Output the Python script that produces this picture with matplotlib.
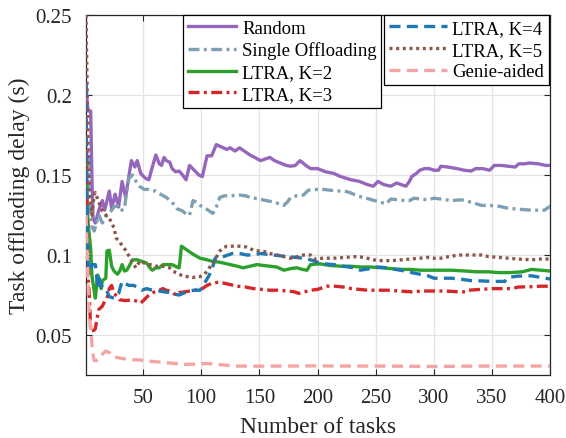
import matplotlib
matplotlib.use("Agg")
import matplotlib.pyplot as plt
from matplotlib.legend import Legend

plt.rcParams['font.family'] = ['Liberation Serif', 'DejaVu Serif']

# ---------------- data ----------------
rnd_x = [1, 2, 3, 5, 6, 7, 9, 12, 15, 17, 21, 23, 26, 29, 32, 35, 38, 40, 43, 45, 48, 52, 55, 58, 61, 64, 66,
         68, 70, 73, 75, 78, 81, 84, 87, 90, 94, 98, 101, 105, 109, 113, 116, 119, 122, 125, 129, 133, 137,
         142, 146, 151, 155, 159, 163, 168, 173, 177, 181, 185, 190, 194, 200, 207, 214, 220, 229, 236, 243,
         248, 252, 257, 263, 268, 272, 276, 279, 281, 285, 288, 292, 296, 300, 304, 306, 312, 320, 326, 332,
         336, 342, 348, 352, 358, 364, 370, 373, 378, 382, 390, 396, 400]
rnd_y = [0.207, 0.195, 0.19, 0.19, 0.15, 0.123, 0.12, 0.128, 0.134, 0.128, 0.14, 0.129, 0.138, 0.13, 0.146,
         0.136, 0.15, 0.159, 0.155, 0.159, 0.151, 0.148, 0.147, 0.155, 0.1625, 0.157, 0.156, 0.161, 0.159,
         0.158, 0.154, 0.152, 0.1525, 0.150, 0.147, 0.156, 0.153, 0.15, 0.149, 0.162, 0.162, 0.169, 0.168,
         0.167, 0.166, 0.167, 0.165, 0.167, 0.165, 0.1625, 0.161, 0.159, 0.16, 0.161, 0.159, 0.1575, 0.156,
         0.1555, 0.156, 0.159, 0.156, 0.154, 0.154, 0.152, 0.151, 0.149, 0.147, 0.146, 0.144, 0.143, 0.146,
         0.144, 0.143, 0.145, 0.144, 0.143, 0.146, 0.149, 0.151, 0.153, 0.154, 0.154, 0.153, 0.153, 0.1555,
         0.155, 0.154, 0.153, 0.1525, 0.154, 0.154, 0.153, 0.156, 0.156, 0.1555, 0.155, 0.157, 0.157, 0.1575,
         0.157, 0.156, 0.156]

so_x = [1, 2, 3, 4, 6, 8, 10, 12, 15, 18, 21, 25, 29, 32, 34, 36, 38, 41, 44, 47, 51, 55, 58, 61, 65, 70, 75,
        79, 84, 88, 90, 93, 96, 99, 104, 110, 113, 116, 120, 125, 133, 138, 142, 150, 156, 163, 171, 174, 177,
        182, 188, 192, 200, 205, 211, 217, 223, 228, 234, 242, 249, 254, 259, 263, 270, 275, 279, 283, 289,
        295, 300, 306, 315, 324, 332, 341, 348, 356, 362, 367, 375, 384, 390, 395, 400]
so_y = [0.155, 0.165, 0.16, 0.135, 0.118, 0.115, 0.12, 0.125, 0.12, 0.124, 0.126, 0.13, 0.131, 0.128, 0.129,
        0.14, 0.148, 0.15, 0.146, 0.143, 0.141, 0.141, 0.14, 0.14, 0.138, 0.136, 0.133, 0.129, 0.1275, 0.125,
        0.125, 0.134, 0.133, 0.131, 0.129, 0.126, 0.13, 0.136, 0.137, 0.137, 0.1375, 0.137, 0.136, 0.135,
        0.134, 0.133, 0.131, 0.133, 0.136, 0.137, 0.1375, 0.1405, 0.141, 0.141, 0.1405, 0.14, 0.14, 0.139,
        0.137, 0.1355, 0.134, 0.133, 0.132, 0.135, 0.1345, 0.134, 0.134, 0.1355, 0.135, 0.1345, 0.1355, 0.135,
        0.134, 0.1345, 0.133, 0.131, 0.131, 0.1305, 0.1295, 0.129, 0.1285, 0.128, 0.128, 0.128, 0.1305]

k2_x = [1, 2, 3, 5, 6, 8, 9, 11, 12, 14, 15, 18, 19, 21, 23, 25, 28, 30, 32, 34, 36, 38, 41, 45, 49, 53, 56,
        58, 61, 64, 67, 71, 75, 79, 81, 82, 83, 88, 93, 99, 105, 110, 116, 122, 128, 131, 136, 142, 148, 153,
        159, 165, 171, 177, 182, 187, 191, 194, 202, 210, 220, 228, 237, 246, 255, 263, 272, 280, 289, 298,
        304, 315, 327, 337, 347, 356, 365, 376, 384, 392, 400]
k2_y = [0.16, 0.13, 0.118, 0.104, 0.0875, 0.0775, 0.073, 0.0875, 0.0855, 0.079, 0.084, 0.0855, 0.1025, 0.103,
        0.093, 0.09, 0.088, 0.09, 0.094, 0.09, 0.0905, 0.093, 0.097, 0.097, 0.096, 0.095, 0.092, 0.0905, 0.092,
        0.092, 0.094, 0.094, 0.094, 0.0925, 0.092, 0.098, 0.1055, 0.103, 0.1005, 0.098, 0.097, 0.096, 0.0955,
        0.0945, 0.0935, 0.093, 0.092, 0.093, 0.094, 0.0935, 0.093, 0.0925, 0.0905, 0.0915, 0.092, 0.091,
        0.0905, 0.094, 0.0945, 0.0935, 0.093, 0.093, 0.0925, 0.0925, 0.092, 0.0915, 0.091, 0.091, 0.0905,
        0.0905, 0.0905, 0.0905, 0.09, 0.0895, 0.0895, 0.089, 0.089, 0.0895, 0.091, 0.0905, 0.09]

k3_x = [1, 2, 3, 4, 5, 6, 8, 9, 11, 12, 15, 17, 19, 21, 23, 25, 28, 30, 35, 41, 45, 48, 51, 55, 60, 64, 67,
        70, 73, 76, 79, 81, 86, 90, 95, 101, 105, 110, 115, 119, 125, 131, 138, 145, 152, 159, 166, 174, 180,
        184, 189, 194, 200, 208, 215, 222, 229, 236, 243, 252, 260, 270, 281, 290, 298, 310, 321, 327, 330,
        340, 350, 360, 367, 373, 385, 392, 400]
k3_y = [0.165, 0.12, 0.085, 0.072, 0.0525, 0.0525, 0.053, 0.054, 0.0625, 0.066, 0.068, 0.071, 0.073, 0.079,
        0.081, 0.076, 0.074, 0.072, 0.0715, 0.072, 0.071, 0.07, 0.072, 0.075, 0.077, 0.078, 0.079, 0.078,
        0.0775, 0.076, 0.075, 0.0765, 0.077, 0.0775, 0.078, 0.079, 0.081, 0.0825, 0.083, 0.0825, 0.0815,
        0.0805, 0.08, 0.079, 0.0785, 0.078, 0.078, 0.0775, 0.077, 0.076, 0.077, 0.078, 0.0785, 0.0805, 0.0805,
        0.08, 0.079, 0.0785, 0.078, 0.078, 0.078, 0.0775, 0.077, 0.0775, 0.0775, 0.0775, 0.077, 0.077, 0.078,
        0.0785, 0.079, 0.079, 0.079, 0.08, 0.0802, 0.0805, 0.0805]

k4_x = [1, 2, 3, 5, 6, 9, 11, 12, 14, 16, 18, 21, 23, 25, 29, 32, 35, 38, 42, 46, 49, 53, 58, 61, 64, 68, 73,
        77, 81, 86, 90, 94, 99, 103, 107, 110, 112, 116, 121, 127, 133, 139, 145, 151, 156, 162, 168, 174, 181,
        188, 194, 200, 205, 214, 222, 231, 237, 245, 252, 260, 267, 275, 281, 288, 295, 300, 306, 315, 324,
        332, 341, 350, 357, 361, 364, 372, 384, 392, 400]
k4_y = [0.207, 0.11, 0.092, 0.09, 0.094, 0.094, 0.081, 0.0855, 0.081, 0.079, 0.079, 0.074, 0.0735, 0.073,
        0.076, 0.0835, 0.082, 0.081, 0.081, 0.0795, 0.078, 0.079, 0.078, 0.078, 0.0775, 0.077, 0.0765, 0.0755,
        0.075, 0.0765, 0.0775, 0.078, 0.078, 0.0825, 0.0875, 0.093, 0.098, 0.098, 0.0995, 0.101, 0.101, 0.1,
        0.1, 0.101, 0.1005, 0.1, 0.0995, 0.099, 0.0985, 0.098, 0.097, 0.0955, 0.0945, 0.094, 0.093, 0.092,
        0.0905, 0.0915, 0.0925, 0.092, 0.091, 0.09, 0.089, 0.088, 0.087, 0.0855, 0.0855, 0.0855, 0.0848, 0.084,
        0.0838, 0.0835, 0.0835, 0.0835, 0.086, 0.0868, 0.087, 0.086, 0.085]

k5_x = [1, 2, 3, 4, 6, 8, 9, 11, 13, 15, 18, 21, 23, 25, 27, 29, 32, 35, 39, 42, 44, 47, 51, 55, 58, 61, 64,
        67, 70, 73, 78, 84, 88, 93, 99, 103, 107, 111, 116, 119, 122, 128, 133, 139, 145, 150, 153, 159, 165,
        171, 177, 183, 188, 194, 197, 205, 214, 224, 234, 240, 248, 255, 264, 272, 280, 288, 295, 300, 306,
        313, 321, 330, 341, 347, 356, 364, 372, 384, 392, 400]
k5_y = [0.25, 0.2, 0.16, 0.14, 0.125, 0.1375, 0.139, 0.135, 0.131, 0.1275, 0.125, 0.123, 0.12, 0.117, 0.1105,
        0.109, 0.106, 0.103, 0.098, 0.094, 0.092, 0.096, 0.095, 0.094, 0.094, 0.093, 0.093, 0.093, 0.0925,
        0.092, 0.089, 0.087, 0.0865, 0.086, 0.0865, 0.088, 0.092, 0.096, 0.1025, 0.1045, 0.1055, 0.1055,
        0.1055, 0.105, 0.103, 0.1025, 0.1025, 0.101, 0.1, 0.099, 0.098, 0.099, 0.1, 0.1, 0.0975, 0.098, 0.098,
        0.0985, 0.099, 0.0985, 0.097, 0.0965, 0.0965, 0.097, 0.0975, 0.098, 0.0985, 0.098, 0.098, 0.099, 0.1,
        0.1, 0.1, 0.099, 0.0985, 0.098, 0.0975, 0.097, 0.0975, 0.0975]

gen_x = [1, 2, 3, 4, 5, 6, 7, 8, 10, 12, 15, 18, 21, 23, 27, 31, 35, 40, 45, 52, 58, 65, 73, 80, 86, 95, 105,
         115, 130, 150, 175, 200, 225, 250, 275, 300, 325, 350, 375, 400]
gen_y = [0.125, 0.1, 0.075, 0.06, 0.054, 0.045, 0.038, 0.034, 0.034, 0.035, 0.038, 0.04, 0.039, 0.037, 0.036,
         0.0355, 0.035, 0.0345, 0.0345, 0.034, 0.0335, 0.033, 0.0325, 0.032, 0.0316, 0.0318, 0.0322, 0.0315,
         0.0306, 0.0305, 0.0306, 0.0307, 0.0306, 0.0306, 0.0305, 0.0303, 0.0305, 0.0306, 0.0306, 0.0306]

labels = ['Random', 'Single Offloading', 'LTRA, K=2', 'LTRA, K=3', 'LTRA, K=4', 'LTRA, K=5', 'Genie-aided']
x_ticks = [50, 100, 150, 200, 250, 300, 350, 400]
y_ticks = [0.05, 0.1, 0.15, 0.2, 0.25]
y_tick_labels = ['0.05', '0.1', '0.15', '0.2', '0.25']

# ---------------- plot ----------------
fig = plt.figure(figsize=(5.66, 4.39), dpi=100)
ax = fig.add_axes([0.152, 0.1435, 0.820, 0.820])

lw = 2.4
dash = (0, (3.3, 1.9))
dashdot = (0, (3.3, 1.3, 0.9, 1.3))
dot = (0, (0.9, 1.1))
series = [
    (rnd_x, rnd_y, '#9467bd', '-'),
    (so_x, so_y, '#7fa0b3', dashdot),
    (k2_x, k2_y, '#2ca02c', '-'),
    (k3_x, k3_y, '#d62728', dashdot),
    (k4_x, k4_y, '#1f77b4', dash),
    (k5_x, k5_y, '#8c564b', dot),
    (gen_x, gen_y, '#f3a5a5', dash),
]
lines = []
for (xs, ys, c, ls), lab in zip(series, labels):
    ln, = ax.plot(xs, ys, color=c, linestyle=ls, linewidth=lw, label=lab, zorder=3)
    lines.append(ln)

ax.set_xlim(1, 400)
ax.set_ylim(0.025, 0.25)
ax.set_xticks(x_ticks)
ax.set_xticklabels([str(v) for v in x_ticks])
ax.set_yticks(y_ticks)
ax.set_yticklabels(y_tick_labels)
ax.grid(True, color='#e3e3e3', linewidth=0.9, zorder=0)
ax.set_axisbelow(True)
ax.tick_params(direction='in', length=4, width=0.8, top=True, right=True,
               labelsize=15, colors='#262626')
ax.tick_params(axis='y', pad=10)
ax.tick_params(axis='x', pad=9)
for sp in ax.spines.values():
    sp.set_color('#262626')
    sp.set_linewidth(0.9)

ax.set_xlabel('Number of tasks', fontsize=17, color='#262626', labelpad=7)
ax.set_ylabel('Task offloading delay (s)', fontsize=17, color='#262626', labelpad=4)

leg_kw = dict(fontsize=13.5, frameon=True, fancybox=False, framealpha=1, edgecolor='black',
              handletextpad=0.3, labelspacing=0.25, borderpad=0.25, borderaxespad=0)
leg1 = ax.legend(lines[:4], labels[:4], loc='upper left', bbox_to_anchor=(0.209, 1.0),
                 handlelength=2.6, **leg_kw)
leg1.get_frame().set_linewidth(0.9)
leg2 = Legend(ax, lines[4:], labels[4:], loc='upper right', bbox_to_anchor=(0.997, 1.0),
              handlelength=3.1, **leg_kw)
leg2.get_frame().set_linewidth(0.9)
ax.add_artist(leg2)
leg1.set_zorder(5)
leg2.set_zorder(5)

fig.savefig('out.png', dpi=100)
